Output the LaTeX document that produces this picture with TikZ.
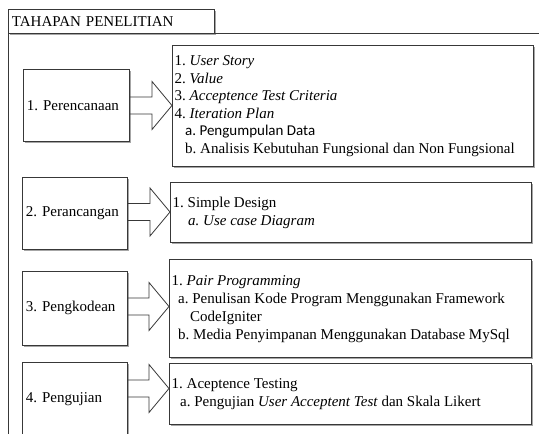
\documentclass[tikz,border=0pt]{standalone}
\usepackage{fontspec}
\setmainfont{Liberation Serif}
\newfontfamily\calibri{Carlito}
\usetikzlibrary{calc,shadows}
\frenchspacing
\tikzset{
  edge/.style={draw=black!78, line width=0.8pt},
  boxshadow/.style={drop shadow={shadow xshift=1.3pt, shadow yshift=-1.3pt, fill=black, opacity=0.35}},
  panel/.style={edge, boxshadow, fill=white, inner sep=0pt, anchor=north west},
  stage/.style={edge, boxshadow, fill=white, anchor=north west, inner xsep=3.5pt, inner ysep=0pt, align=left},
  item/.style={anchor=base west, inner sep=0pt},
  arrline/.style={edge, line join=miter}
}
\newcommand\blockarr[3]{%
  \draw[arrline] ($(#1.east |- #3)+(0,-8.5)$) -- ($(#2.west |- #3)+(-20,-8.5)$)
    -- ($(#2.west |- #3)+(-20,-24)$) -- (#2.west |- #3)
    -- ($(#2.west |- #3)+(-20,24)$) -- ($(#2.west |- #3)+(-20,8.5)$)
    -- ($(#1.east |- #3)+(0,8.5)$);}
\begin{document}
\begin{tikzpicture}[x=1pt,y=-1pt,font=\fontsize{15}{18}\selectfont\frenchspacing]
\useasboundingbox (0,0) rectangle (539,434);
\fill[white] (0,0) rectangle (539,434);

% title and frame
\node[stage, minimum width=206pt, minimum height=24pt, text width=199pt] (T) at (8,9) {TAHAPAN PENELITIAN};
\draw[edge] ($(T.south west)+(0,420)$) -- (T.south west) -- (T.south -| 545,0);

% left stage boxes
\node[stage, minimum width=106pt, minimum height=72pt, text width=99pt] (L1) at (23,69) {1. Perencanaan};
\node[stage, minimum width=105pt, minimum height=72pt, text width=98pt] (L2) at (22,177) {2. Perancangan};
\node[stage, minimum width=105pt, minimum height=74pt, text width=98pt] (L3) at (22,271) {3. Pengkodean};
\node[stage, minimum width=105pt, minimum height=73pt, text width=98pt] (L4) at (22,362) {4. Pengujian};

% right detail boxes
\node[panel, minimum width=361pt, minimum height=121pt] (R1) at (172,45) {};
\node[panel, minimum width=361pt, minimum height=60pt] (R2) at (170,182) {};
\node[panel, minimum width=362pt, minimum height=98pt] (R3) at (169,259) {};
\node[panel, minimum width=362pt, minimum height=61pt] (R4) at (169,363) {};

% arrow axes
\coordinate (a1) at (0,105.5);
\coordinate (a2) at (0,212);
\coordinate (a3) at (0,306.5);
\coordinate (a4) at (0,388.5);
\blockarr{L1}{R1}{a1}
\blockarr{L2}{R2}{a2}
\blockarr{L3}{R3}{a3}
\blockarr{L4}{R4}{a4}

% texts of box 1
\node[item] (r1a) at (174.5,65.5) {1. \textit{User Story}};
\node[item] (r1b) at (174.5,83) {2. \textit{Value}};
\node[item] (r1c) at (174.5,100.5) {3. \textit{Acceptence Test Criteria}};
\node[item] (r1d) at (174.5,118) {4. \textit{Iteration Plan}};
\node[item] (r1e) at (185,135.5) {{\calibri a. Pengumpulan Data}};
\node[item] (r1f) at (185,153) {b. Analisis Kebutuhan Fungsional dan Non Fungsional};

% texts of box 2
\node[item] (r2a) at (172.5,207) {1. Simple Design};
\node[item] (r2b) at (188,225) {\textit{a. Use case Diagram}};

% texts of box 3
\node[item] (r3a) at (171.5,285) {1. \textit{Pair Programming}};
\node[item] (r3b) at (178,303) {a. Penulisan Kode Program Menggunakan Framework};
\node[item] (r3c) at (190,321) {CodeIgniter};
\node[item] (r3d) at (178,339) {b. Media Penyimpanan Menggunakan Database MySql};

% texts of box 4
\node[item] (r4a) at (171.5,388) {1. Aceptence Testing};
\node[item] (r4b) at (180,406) {a. Pengujian \textit{User Acceptent Test} dan Skala Likert};
\end{tikzpicture}
\end{document}
